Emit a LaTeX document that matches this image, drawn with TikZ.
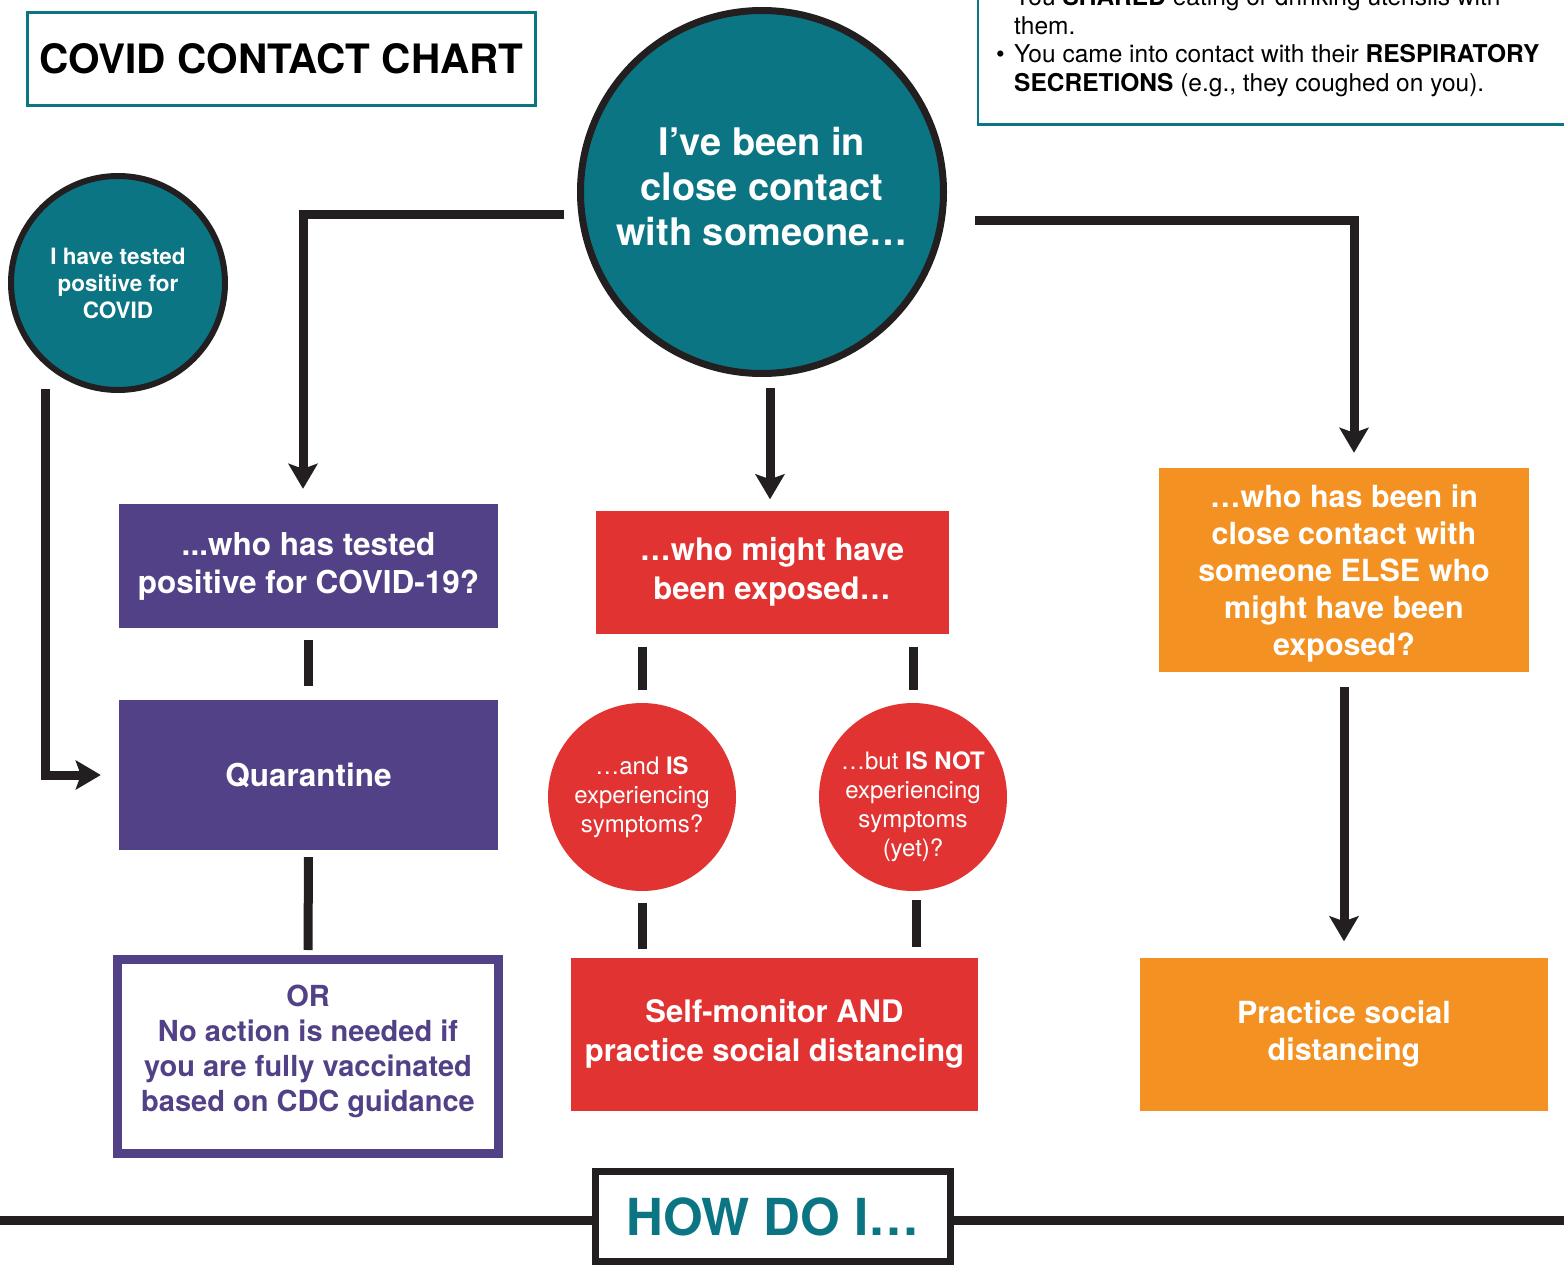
\documentclass[tikz,border=0pt]{standalone}
\usepackage{fontspec}
\setmainfont{TeX Gyre Heros}
\usetikzlibrary{arrows.meta}
\definecolor{covidteal}{HTML}{0B7583}
\definecolor{covidpurple}{HTML}{534187}
\definecolor{covidred}{HTML}{E23333}
\definecolor{covidorange}{HTML}{F39222}
\definecolor{ink}{HTML}{231F20}
\tikzset{
	teal node/.style={circle, draw=ink, fill=covidteal, text=white, align=center, inner sep=0},
	purple node/.style={rectangle, fill=covidpurple, text=white, align=center, minimum width=379, font=\fontsize{31.5}{38}\selectfont\bfseries},
	red node/.style={rectangle, fill=covidred, text=white, align=center, font=\fontsize{31}{38.5}\selectfont\bfseries},
	red circle/.style={circle, fill=covidred, text=white, align=center, minimum size=188, inner sep=0, font=\fontsize{24}{29}\selectfont},
	orange node/.style={rectangle, fill=covidorange, text=white, align=center, font=\fontsize{30.5}{37}\selectfont\bfseries},
	flow arrow/.style={draw=ink, line width=9pt, -{Stealth[length=25pt, width=29pt, inset=5pt]}},
	link bar/.style={draw=ink, line width=9pt},
}

\begin{document}
\begin{tikzpicture}[x=1pt, y=-1pt]
 \useasboundingbox (0,0) rectangle (1564,1266);

 \node[draw=covidteal, line width=2.5pt, minimum width=508, minimum height=93, font=\fontsize{40.5}{44}\selectfont\bfseries] (title) at (281.5,59) {COVID CONTACT CHART};

 \draw[draw=covidteal, line width=2.5pt] (978,-40) rectangle (1620,124.5);
 \node[anchor=south west, inner sep=0, align=left, font=\fontsize{24.5}{28.5}\selectfont] (info) at (996,97)
   {\makebox[18pt][l]{•}You \textbf{SHARED} eating or drinking utensils with\\
    \hspace*{18pt}them.\\
    \makebox[18pt][l]{•}You came into contact with their \textbf{RESPIRATORY}\\
    \hspace*{18pt}\textbf{SECRETIONS} (e.g., they coughed on you).};

 \node[teal node, line width=7pt, minimum size=363, font=\fontsize{38}{45}\selectfont\bfseries] (contact) at (762,192)
   {I’ve been in\\close contact\\with someone…\rule[-12pt]{0pt}{12pt}};
 \node[teal node, line width=6pt, minimum size=214, font=\fontsize{22.5}{27}\selectfont\bfseries] (positive) at (118,283)
   {I have tested\\positive for\\COVID};

 \node[purple node, minimum height=124] (tested) at (308.5,566) {...who has tested\\positive for COVID-19?};
 \node[purple node, minimum height=150] (quar) at (308.5,775) {Quarantine};
 \node[rectangle, draw=covidpurple, fill=white, line width=9pt, minimum width=381, minimum height=194, text=covidpurple, align=center, font=\fontsize{29}{35}\selectfont\bfseries] (novax) at (308,1056.5)
   {OR\\No action is needed if\\you are fully vaccinated\\based on CDC guidance\rule[-16pt]{0pt}{16pt}};

 \node[red node, minimum width=353, minimum height=123] (exposed) at (772,572) {…who might have\\been exposed…};
 \node[red circle] (sympyes) at (642,797) {…and \textbf{IS}\\experiencing\\symptoms?};
 \node[red circle, inner sep=-12pt] (sympno) at (913,797) {\rule{0pt}{38pt}…but \textbf{IS NOT}\\experiencing\\symptoms\\(yet)?};
 \node[red node, minimum width=407, minimum height=153] (selfmon) at (774.5,1034) {Self-monitor AND\\practice social distancing};

 \node[orange node, minimum width=370, minimum height=204] (elsewho) at (1344,570)
   {\rule{0pt}{30pt}…who has been in\\close contact with\\someone ELSE who\\might have been\\exposed?};
 \node[orange node, minimum width=408, minimum height=153] (distance) at (1344,1034) {Practice social\\distancing};

 \node[draw=ink, fill=white, line width=7pt, minimum width=355, minimum height=90, text=covidteal, font=\fontsize{51}{56}\selectfont\bfseries] (howdo) at (773,1216.5) {HOW DO I…};
 \coordinate (rule left) at (0,1220);
 \coordinate (rule right) at (1564,1220);

 \draw[flow arrow, shorten <=14pt, shorten >=15pt] (contact.187) -| (tested.north -| 303,0);
 \draw[flow arrow, shorten <=11pt, shorten >=11pt] (contact.south -| 770,0) -- (exposed.north -| 770,0);
 \draw[flow arrow, shorten <=30pt, shorten >=15pt] (contact.-9) -| (elsewho.north -| 1354,0);
 \draw[flow arrow, shorten <=23pt, shorten >=18pt] (positive.229) |- (quar.west);
 \draw[flow arrow, shorten <=15pt, shorten >=16pt] (elsewho.south) -- (distance.north);

 \draw[link bar, shorten <=12pt, shorten >=14pt] (tested.south) -- (quar.north);
 \draw[link bar, shorten <=7pt, shorten >=5pt] (quar.south) -- (novax.north);
 \draw[link bar, shorten <=13pt, shorten >=13pt] (sympyes.north |- exposed.south) -- (sympyes.north);
 \draw[link bar, shorten <=13pt, shorten >=13pt] (sympno.north |- exposed.south) -- (sympno.north);
 \draw[link bar, shorten <=12pt, shorten >=8pt] (sympyes.south) -- (sympyes.south |- selfmon.north);
 \draw[link bar, shorten <=9pt, shorten >=10pt] (sympno.south -| 916,0) -- (selfmon.north -| 916,0);

 \draw[link bar] (rule left) -- (rule left -| howdo.west);
 \draw[link bar] (rule right -| howdo.east) -- (rule right);
\end{tikzpicture}
\end{document}
